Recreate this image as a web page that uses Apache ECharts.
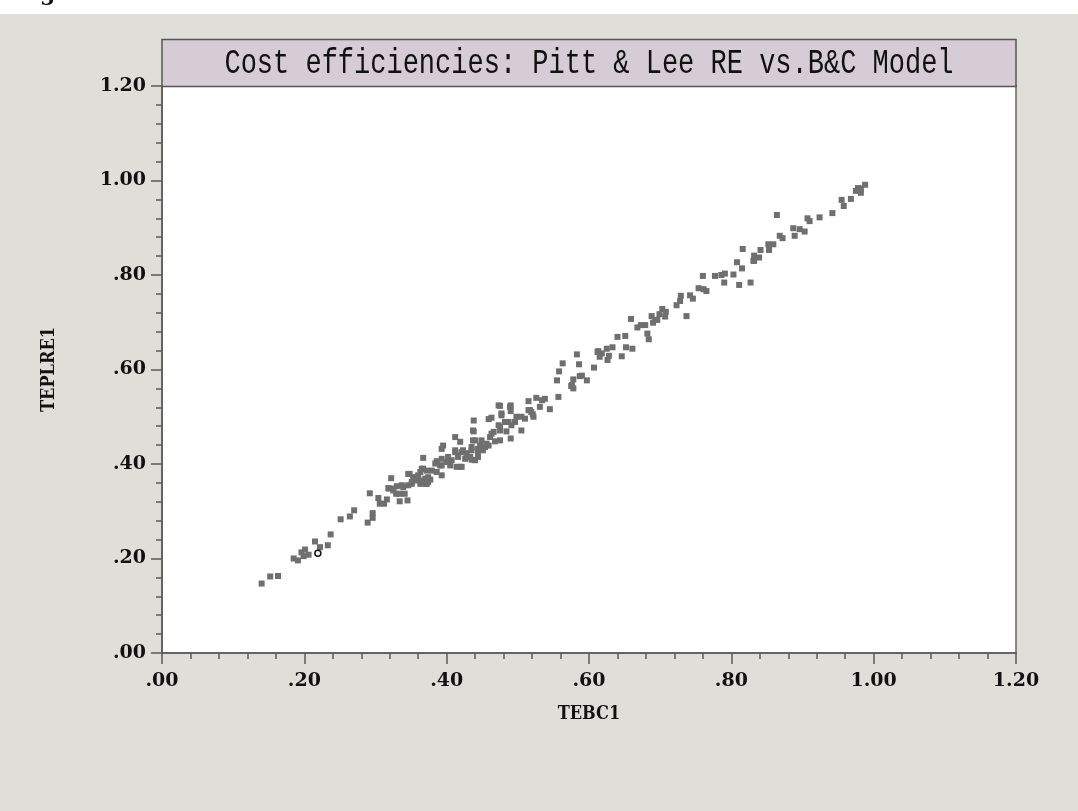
<!DOCTYPE html>
<html>
<head>
<meta charset="utf-8">
<script src="https://cdn.jsdelivr.net/npm/echarts@6/dist/echarts.min.js"></script>
<style>
  html, body { margin: 0; padding: 0; background: #ffffff; }
  #chart { width: 1078px; height: 811px; }
</style>
</head>
<body>
<div id="chart"></div>
<script>
// ---- Data ----
const titleText = 'Cost efficiencies: Pitt & Lee RE vs.B&C Model';
const xName = 'TEBC1';
const yName = 'TEPLRE1';
const axisMin = 0;
const axisMax = 1.2;
const axisStep = 0.2;

// TEBC1 values (x)
const tebc1 = [
  0.140,0.152,0.163,0.185,0.191,0.196,0.201,0.199,0.206,0.215,0.222,0.233,0.237,0.251,0.264,0.270,
  0.289,0.296,0.296,0.292,0.304,0.306,0.312,0.316,0.319,0.325,0.329,0.334,0.333,0.339,0.345,0.341,
  0.351,0.365,0.371,0.377,
  0.322,0.318,0.325,0.348,0.358,0.363,0.367,0.374,0.367,0.379,0.386,0.393,0.393,0.393,0.395,0.400,
  0.407,0.412,0.419,0.419,0.412,0.416,0.423,0.426,0.433,0.435,0.437,0.438,0.438,0.440,0.444,0.447,
  0.451,0.456,0.459,0.463,0.461,0.466,0.468,0.473,0.473,0.475,0.477,0.482,0.484,0.490,0.490,0.490,
  0.491,0.496,0.498,0.505,0.510,0.515,0.515,0.519,0.522,0.526,0.534,0.538,0.545,0.557,0.555,0.576,
  0.578,
  0.563,0.583,0.586,0.590,0.607,0.613,0.615,0.618,0.625,0.626,0.628,0.633,0.640,0.646,0.651,0.652,
  0.659,0.661,0.668,0.673,0.679,0.682,0.684,0.688,0.690,0.693,0.696,0.699,0.703,0.707,0.708,0.723,
  0.728,0.729,0.737,0.742,0.746,0.754,0.760,0.761,0.765,0.777,0.786,0.791,0.790,0.803,0.811,0.808,
  0.815,0.827,0.831,
  0.816,0.832,0.832,0.839,0.841,0.852,0.853,0.859,0.864,0.868,0.872,0.887,0.889,0.896,0.903,0.907,
  0.910,0.924,0.942,0.955,0.958,0.968,0.975,0.978,0.982,0.982,0.988,
  0.558,0.578,0.587,0.597,0.575,0.612,0.531,0.489,0.517,0.521,0.475,
  0.437,0.477,0.487,0.505,0.475,0.463,0.475,0.440,0.449,0.435,0.444,0.454,0.459,0.412,0.421,0.428,
  0.393,0.402,0.416,0.435,0.444,0.384,0.391,0.405,0.414,0.421,0.365,0.372,0.386,0.346,0.353,0.360,
  0.370,0.374,0.358,0.363,0.372,0.337,0.346,0.351,0.330
];

// TEPLRE1 values (y)
const teplre1 = [
  0.147,0.162,0.163,0.200,0.196,0.213,0.219,0.205,0.208,0.236,0.224,0.228,0.251,0.283,0.289,0.302,
  0.276,0.296,0.286,0.338,0.328,0.316,0.316,0.325,0.348,0.348,0.337,0.321,0.337,0.351,0.323,0.337,
  0.358,0.365,0.358,0.367,
  0.370,0.349,0.344,0.379,0.372,0.383,0.390,0.372,0.413,0.386,0.406,0.376,0.397,0.432,0.439,0.404,
  0.408,0.457,0.447,0.394,0.425,0.418,0.429,0.411,0.415,0.429,0.450,0.469,0.492,0.408,0.422,0.439,
  0.429,0.443,0.495,0.498,0.457,0.468,0.448,0.482,0.524,0.471,0.507,0.489,0.469,0.454,0.524,0.512,
  0.482,0.489,0.500,0.471,0.496,0.514,0.533,0.510,0.500,0.540,0.535,0.538,0.516,0.542,0.577,0.567,
  0.560,
  0.613,0.632,0.611,0.587,0.604,0.639,0.627,0.634,0.644,0.620,0.629,0.647,0.669,0.628,0.671,0.647,
  0.707,0.644,0.689,0.694,0.694,0.676,0.664,0.713,0.699,0.705,0.705,0.717,0.728,0.712,0.722,0.736,
  0.745,0.756,0.713,0.757,0.750,0.772,0.798,0.770,0.766,0.798,0.800,0.803,0.784,0.801,0.779,0.827,
  0.814,0.784,0.830,
  0.855,0.841,0.830,0.837,0.853,0.865,0.853,0.865,0.927,0.883,0.878,0.899,0.883,0.897,0.892,0.920,
  0.914,0.922,0.931,0.959,0.946,0.961,0.978,0.984,0.974,0.983,0.991,
  0.596,0.579,0.586,0.577,0.565,0.637,0.521,0.521,0.514,0.505,0.523,
  0.471,0.503,0.489,0.500,0.478,0.464,0.450,0.450,0.450,0.436,0.432,0.436,0.439,0.429,0.425,0.423,
  0.411,0.415,0.415,0.409,0.415,0.401,0.397,0.397,0.394,0.394,0.390,0.386,0.383,0.379,0.372,0.376,
  0.369,0.362,0.365,0.358,0.358,0.355,0.355,0.362,0.353
];

// Highlighted (hollow) observation
const highlightX = [0.219];
const highlightY = [0.211];

// ---- Build series data from the arrays ----
const pts = tebc1.map((x, i) => [x, teplre1[i]]);
const hiPts = highlightX.map((x, i) => [x, highlightY[i]]);

function fmt(v) {
  const s = v.toFixed(2);
  return s.startsWith('0') ? s.slice(1) : s;
}

const labelFont = 'DejaVu Serif';
const axisColor = '#5a5a5a';

const chart = echarts.init(document.getElementById('chart'), null, { renderer: 'canvas' });

const axisCommon = {
  type: 'value',
  min: axisMin,
  max: axisMax,
  interval: axisStep,
  splitLine: { show: false },
  axisLine: { show: true, onZero: false, lineStyle: { color: axisColor, width: 1.5 } },
  axisTick: { show: true, inside: false, length: 11, lineStyle: { color: axisColor, width: 1.5 } },
  minorTick: { show: true, splitNumber: 5, length: 6, lineStyle: { color: axisColor, width: 1.5 } },
  axisLabel: {
    formatter: fmt,
    fontFamily: labelFont,
    fontWeight: 'bold',
    fontSize: 19,
    color: '#111'
  },
  nameLocation: 'middle',
  nameTextStyle: {
    fontFamily: 'DejaVu Serif Condensed',
    fontWeight: 'bold',
    fontSize: 18,
    color: '#111'
  }
};

const option = {
  backgroundColor: '#ffffff',
  animation: false,
  graphic: [
    { type: 'rect', z: -10, silent: true, shape: { x: 0, y: 14, width: 1078, height: 811 - 14 },
      style: { fill: '#dfded9' } },
    { type: 'text', z: 10, x: 40, y: 5, silent: true,
      style: { text: 'g', font: 'bold 22px "DejaVu Serif"', fill: '#111', verticalAlign: 'bottom' } },
    { type: 'rect', z: 5, silent: true, shape: { x: 162, y: 39.5, width: 854, height: 47 },
      style: { fill: '#d5ccd5', stroke: '#555555', lineWidth: 1.5 } },
    { type: 'text', z: 6, silent: true, x: 589, y: 63, scaleY: 1.33,
      style: { text: titleText, font: '27px "Liberation Mono"', fill: '#111',
               align: 'center', verticalAlign: 'middle' } }
  ],
  grid: {
    left: 162, right: 62, top: 86, bottom: 158,
    show: true, backgroundColor: '#ffffff', borderColor: '#666666', borderWidth: 1.5
  },
  xAxis: Object.assign({}, axisCommon, {
    name: xName,
    nameGap: 52,
    axisLabel: Object.assign({}, axisCommon.axisLabel, { margin: 19 })
  }),
  yAxis: Object.assign({}, axisCommon, {
    name: yName,
    nameGap: 104,
    nameRotate: 90,
    axisLabel: Object.assign({}, axisCommon.axisLabel, { margin: 16 })
  }),
  series: [
    {
      type: 'scatter',
      data: pts,
      symbol: 'rect',
      symbolSize: 6,
      itemStyle: { color: '#6f6f6f', opacity: 1 },
      z: 3
    },
    {
      type: 'scatter',
      data: hiPts,
      symbol: 'circle',
      symbolSize: 6,
      itemStyle: { color: '#ffffff', borderColor: '#111111', borderWidth: 1.5, opacity: 1 },
      z: 4
    }
  ]
};

chart.setOption(option);
</script>
</body>
</html>
